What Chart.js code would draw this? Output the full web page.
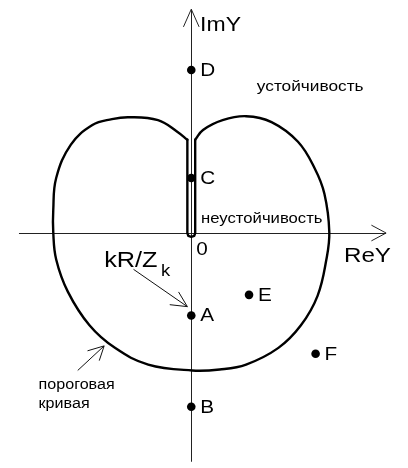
<!DOCTYPE html>
<html>
<head>
<meta charset="utf-8">
<script src="https://cdn.jsdelivr.net/npm/chart.js@4/dist/chart.umd.min.js"></script>
<style>
  html, body { margin: 0; padding: 0; background: #fff; }
  #wrap { width: 408px; height: 468px; }
</style>
</head>
<body>
<div id="wrap"><canvas id="chart" width="408" height="468"></canvas></div>
<script>
// threshold curve in the complex admittance plane (ReY, ImY):
// outer contour, going clockwise from the right edge of the slot
const curveX = [0.4, 1.2, 3.2, 5.6, 8.2, 10.9, 12.6, 13.6, 14.1, 13.8, 12.9, 11.2, 8.9, 5.6, 2.9, 0.1,
  -4.4, -7.8, -10.4, -12.6, -13.8, -14.1, -14.1, -13.8, -12.3, -10.1, -8.1, -6.4, -3.4, -1.4, -0.4];
const curveY = [9.5, 10.5, 11.5, 11.9, 11.3, 9.3, 6.6, 4.0, 0.1, -2.7, -6.4, -9.4, -11.7, -13.4, -13.9, -14.0,
  -13.4, -11.7, -9.4, -6.0, -2.7, 0.1, 2.3, 5.6, 9.0, 11.0, 11.6, 11.8, 11.5, 10.3, 9.5];
// narrow slot along the ImY axis down to the origin
const slotX = [-0.4, -0.4, -0.3, 0, 0.3, 0.4, 0.4];
const slotY = [9.5, 0, -0.3, -0.4, -0.3, 0, 9.5];

// operating points
const pointNames = ["D", "C", "A", "B", "E", "F"];
const pointX = [0, 0, 0, 0, 5.9, 12.7];
const pointY = [16.6, 5.6, -8.4, -17.7, -6.3, -12.3];

const FONT = "Arial, 'Liberation Sans', sans-serif";
const SX = 1.15; // glyphs are drawn a bit wide

const toXY = (xs, ys) => xs.map((x, i) => ({ x, y: ys[i] }));

function line(ctx, xs, ys, x1, y1, x2, y2) {
  ctx.beginPath();
  ctx.moveTo(xs.getPixelForValue(x1), ys.getPixelForValue(y1));
  ctx.lineTo(xs.getPixelForValue(x2), ys.getPixelForValue(y2));
  ctx.stroke();
}

function text(ctx, str, px, py, size, baseline) {
  ctx.save();
  ctx.font = size + "px " + FONT;
  ctx.textBaseline = baseline || "alphabetic";
  ctx.textAlign = "left";
  ctx.translate(px, py);
  ctx.scale(SX, 1);
  ctx.fillText(str, 0, 0);
  ctx.restore();
}

// axes with arrows, drawn under the curve
const axesPlugin = {
  id: "axes",
  beforeDatasetsDraw(chart) {
    const { ctx, scales: { x: xs, y: ys } } = chart;
    const ox = Math.floor(xs.getPixelForValue(0)) + 0.5;
    const oy = Math.floor(ys.getPixelForValue(0)) + 0.5;
    ctx.save();
    ctx.strokeStyle = "#222";
    ctx.lineWidth = 1;
    ctx.beginPath();
    ctx.moveTo(ox, ys.getPixelForValue(22.8));
    ctx.lineTo(ox, ys.getPixelForValue(-23.3));
    ctx.moveTo(xs.getPixelForValue(-17.6), oy);
    ctx.lineTo(xs.getPixelForValue(19.9), oy);
    ctx.stroke();
    // arrow heads
    line(ctx, xs, ys, 0, 22.8, -0.8, 21.0);
    line(ctx, xs, ys, 0, 22.8, 0.8, 21.0);
    line(ctx, xs, ys, 19.9, 0, 18.4, 0.8);
    line(ctx, xs, ys, 19.9, 0, 18.4, -0.8);
    ctx.restore();
  }
};

// captions, point names and pointer arrows
const labelsPlugin = {
  id: "labels",
  afterDatasetsDraw(chart) {
    const { ctx, scales: { x: xs, y: ys } } = chart;
    const X = v => xs.getPixelForValue(v);
    const Y = v => ys.getPixelForValue(v);
    ctx.save();
    ctx.fillStyle = "#000";
    text(ctx, "ImY", X(0.9), Y(20.6), 20);
    text(ctx, "ReY", X(15.6), Y(-3.0), 21);
    text(ctx, "0", X(0.5), Y(-2.2), 18);
    text(ctx, "устойчивость", X(6.7), Y(14.5), 15);
    text(ctx, "неустойчивость", X(1.0), Y(1.0), 14.5);
    text(ctx, "kR/Z", X(-8.9), Y(-3.5), 22);
    text(ctx, "k", X(-3.1), Y(-4.4), 16);
    text(ctx, "пороговая", X(-15.6), Y(-15.9), 14);
    text(ctx, "кривая", X(-15.6), Y(-17.8), 14);

    pointNames.forEach((name, i) => {
      text(ctx, name, X(pointX[i]) + 9, Y(pointY[i]) + 1, 18, "middle");
    });

    ctx.strokeStyle = "#111";
    ctx.lineWidth = 1;
    // pointer to point A
    line(ctx, xs, ys, -5.9, -3.7, -0.4, -7.5);
    line(ctx, xs, ys, -0.4, -7.5, -2.2, -7.3);
    line(ctx, xs, ys, -0.4, -7.5, -1.3, -6.0);
    // pointer to the threshold curve
    line(ctx, xs, ys, -11.6, -14.0, -8.9, -11.5);
    line(ctx, xs, ys, -8.9, -11.5, -10.6, -12.0);
    line(ctx, xs, ys, -8.9, -11.5, -9.4, -13.0);
    ctx.restore();
  }
};

new Chart(document.getElementById("chart"), {
  type: "scatter",
  data: {
    datasets: [
      {
        label: "пороговая кривая",
        data: toXY(curveX, curveY),
        showLine: true,
        borderColor: "#000",
        borderWidth: 2.4,
        borderCapStyle: "round",
        borderJoinStyle: "round",
        tension: 0.4,
        pointRadius: 0
      },
      {
        label: "щель",
        data: toXY(slotX, slotY),
        showLine: true,
        borderColor: "#000",
        borderWidth: 2.4,
        borderCapStyle: "round",
        borderJoinStyle: "round",
        tension: 0,
        pointRadius: 0
      },
      {
        label: "точки",
        data: toXY(pointX, pointY),
        showLine: false,
        pointRadius: 4.3,
        pointBackgroundColor: "#000",
        pointBorderColor: "#000",
        pointBorderWidth: 0
      }
    ]
  },
  options: {
    responsive: false,
    animation: false,
    layout: { padding: 0 },
    plugins: { legend: { display: false }, tooltip: { enabled: false } },
    scales: {
      x: { type: "linear", min: -19.1, max: 21.7, display: false },
      y: { type: "linear", min: -23.5, max: 23.3, display: false }
    }
  },
  plugins: [axesPlugin, labelsPlugin]
});
</script>
</body>
</html>
